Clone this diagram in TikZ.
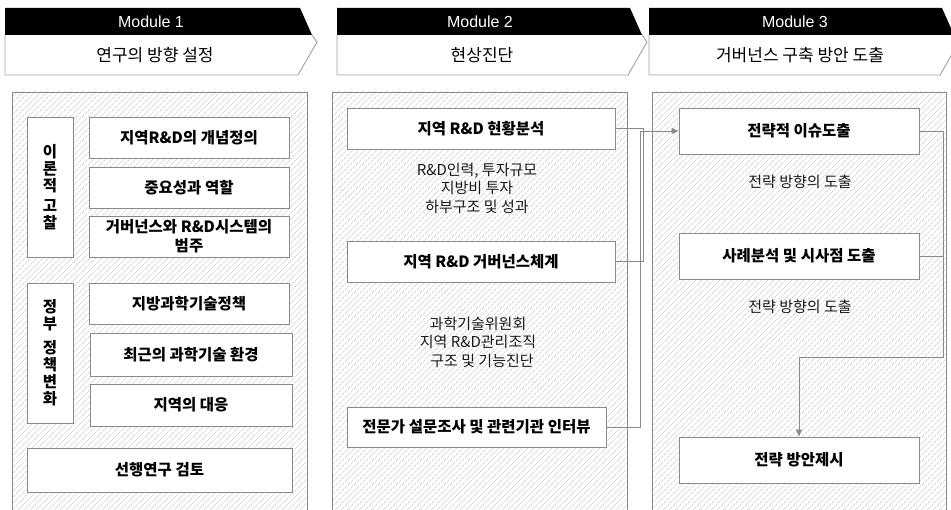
\documentclass[tikz,border=0pt]{standalone}
\usepackage{fontspec}
\setmainfont{Noto Sans CJK KR}
\newfontfamily\latinsans{Liberation Sans}
\usetikzlibrary{arrows.meta,patterns.meta}
\definecolor{lineg}{HTML}{8A8A8A}
\definecolor{hatchg}{HTML}{BDBDBD}
\begin{document}
\begin{tikzpicture}[x=1pt,y=-1pt,
  panel/.style={draw=lineg, line width=0.9pt, preaction={fill=white},
    pattern={Lines[angle=45,distance=4pt,line width=0.45pt]}, pattern color=hatchg},
  box/.style={draw=lineg, fill=white, line width=0.9pt, align=center, inner sep=0pt,
    font=\bfseries\fontsize{15.5}{19}\selectfont},
  vbox/.style={box, font=\bfseries\fontsize{15.5}{17}\selectfont},
  desc/.style={align=center, inner sep=0pt, text=black!90, font=\fontsize{15}{18.5}\selectfont},
  modtitle/.style={text=white, inner sep=0pt, font=\latinsans\fontsize{16}{16}\selectfont},
  modsub/.style={inner sep=0pt, font=\fontsize{17}{17}\selectfont},
  conn/.style={draw=lineg, line width=0.9pt},
  arr/.style={conn, -{Triangle[length=7pt,width=6pt]}}]
\useasboundingbox (0,0) rectangle (951,510);
\clip (0,0) rectangle (951,510);
% ---------- headers ----------
\foreach \L/\R/\n in {5/300/1,337/630/2,649/942/3}{
  \fill[white] (\L,35) -- (\R+12,35) -- (\R+17,42) -- (\R-2,75) -- (\L,75) -- cycle;
  \draw[lineg!80, line width=0.9pt] (\L,35) -- (\L,75) -- (\R-2,75) -- (\R+17,42) -- (\R+12,35);
  \fill[black] (\L,8) -- (\R,8) -- (\R+12,35) -- (\L,35) -- cycle;
}
\node[modtitle] (m1) at (151,22) {Module 1};
\node[modsub] (s1) at (155,55) {연구의 방향 설정};
\node[modtitle] (m2) at (480,22) {Module 2};
\node[modsub] (s2) at (482,55) {현상진단};
\node[modtitle] (m3) at (795,22) {Module 3};
\node[modsub] (s3) at (800,55) {거버넌스 구축 방안 도출};
% ---------- panels ----------
\path[panel] (12,92) rectangle (307,530);
\path[panel] (332,92) rectangle (627,530);
\path[panel] (652,92) rectangle (946,530);
% ---------- module 1 ----------
\node[vbox, minimum width=46, minimum height=140] (v1) at (50,187) {이\\론\\적\\[3pt]고\\찰};
\node[box, minimum width=200, minimum height=41] (a1) at (189,137.5) {지역R\&D의 개념정의};
\node[box, minimum width=200, minimum height=41] (a2) at (189,187.5) {중요성과 역할};
\node[box, minimum width=200, minimum height=41] (a3) at (189,236.5) {거버넌스와 R\&D시스템의\\범주};
\node[vbox, minimum width=46, minimum height=140] (v2) at (50,353) {정\\부\\[7pt]정\\책\\변\\화};
\node[box, minimum width=200, minimum height=41] (a4) at (189,303.5) {지방과학기술정책};
\node[box, minimum width=202, minimum height=43] (a5) at (191,354.5) {최근의 과학기술 환경};
\node[box, minimum width=202, minimum height=42] (a6) at (191,405) {지역의 대응};
\node[box, minimum width=265, minimum height=44] (a7) at (159.5,470) {선행연구 검토};
% ---------- module 2 ----------
\node[box, minimum width=268, minimum height=41] (b1) at (481,128.5) {지역 R\&D 현황분석};
\node[desc] (d1) at (477,188) {R\&D인력, 투자규모\\지방비 투자\\하부구조 및 성과};
\node[box, minimum width=268, minimum height=41] (b2) at (481,261.5) {지역 R\&D 거버넌스체계};
\node[desc] (d2) at (478,342) {과학기술위원회\\지역 R\&D관리조직\\\hspace{8pt}구조 및 기능진단};
\node[box, minimum width=259, minimum height=40] (b3) at (476.5,427) {전문가 설문조사 및 관련기관 인터뷰};
% ---------- module 3 ----------
\node[box, minimum width=240, minimum height=46] (c1) at (799,131) {전략적 이슈도출};
\node[desc] (e1) at (800,182) {전략 방향의 도출};
\node[box, minimum width=240, minimum height=46] (c2) at (799,256) {사례분석 및 시사점 도출};
\node[desc] (e2) at (800,307) {전략 방향의 도출};
\node[box, minimum width=240, minimum height=46] (c3) at (799,460) {전략 방안제시};
% ---------- connectors ----------
\coordinate (jA) at (643,131);
\coordinate (jB) at (640,131);
\draw[conn] (b1.east) -| (jA);
\draw[conn] (b2.east) -| (jA);
\draw[conn] (b3.east) -| (jB);
\draw[arr] (jB) -- (c1.west);
\coordinate (k1) at (943,357);
\draw[conn] (c2.east) -- (c2.east -| k1);
\draw[arr] (c1.east) -| (k1) -| (c3.north);
\end{tikzpicture}
\end{document}
